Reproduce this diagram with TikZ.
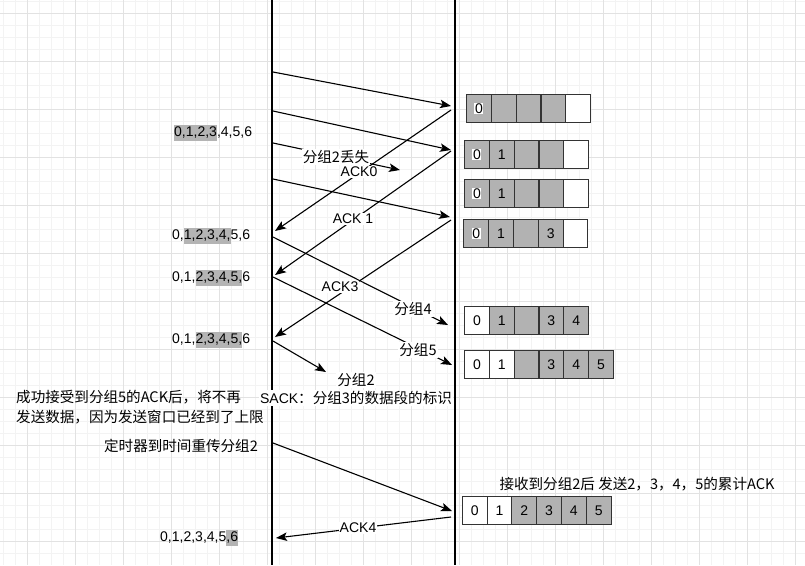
\documentclass[tikz,border=0pt]{standalone}
\usepackage{fontspec}
\setmainfont{Liberation Sans}
\newfontfamily\cjk[Scale=1.04]{Noto Sans CJK SC}
\usetikzlibrary{arrows.meta}
\definecolor{hlgray}{RGB}{180,180,180}
\definecolor{cellgray}{RGB}{178,178,178}
\definecolor{gridminor}{RGB}{243,243,243}
\definecolor{gridmajor}{RGB}{226,226,226}
\newcommand\hlt[1]{{\setlength{\fboxsep}{0pt}\colorbox{hlgray}{\rule[-5pt]{0pt}{16.5pt}#1}}}
\newcommand\zw{{\setlength{\fboxsep}{0.6pt}\colorbox{white}{0}}}
\newcommand\emp{}
\newcommand\cellrow[4]{%
  \foreach \f/\t [count=\i from 0] in {#4} {
    \node[cell, fill=\f] (#1c\i) at ({#2+\i*24.8},#3) {\t};
  }}
\begin{document}
\begin{tikzpicture}[x=1pt,y=-1pt,
  every node/.style={font=\fontsize{14}{17}\selectfont, text=black},
  lifeline/.style={line width=2.4pt, black},
  msg/.style={line width=1.1pt, black, -{Stealth[length=11pt,width=8.5pt,inset=2.5pt]}},
  elabel/.style={fill=white, inner sep=1pt},
  txt/.style={inner sep=0pt},
  cell/.style={draw=black!80, line width=1.1pt, minimum width=24.8pt, minimum height=27.5pt, inner sep=0pt, anchor=north west},
  gminor/.style={draw=gridminor, line width=0.8pt},
  gmajor/.style={draw=gridmajor, line width=0.8pt}]
\useasboundingbox (0,0) rectangle (805,565);
\fill[white] (0,0) rectangle (805,565);
% grid
\foreach \x in {3,15,...,801} \draw[gminor] (\x,0) -- (\x,565);
\foreach \y in {1.3,13.3,...,565} \draw[gminor] (0,\y) -- (805,\y);
\foreach \x in {27,75,...,795} \draw[gmajor] (\x,0) -- (\x,565);
\foreach \y in {13.3,61.3,...,565} \draw[gmajor] (0,\y) -- (805,\y);
% lifelines
\coordinate (LT) at (272,0); \coordinate (LB) at (272,565);
\coordinate (RT) at (455,0); \coordinate (RB) at (455,565);
\draw[lifeline] (LT) -- (LB);
\draw[lifeline] (RT) -- (RB);
% message end points
\coordinate (f1s) at (273,72);  \coordinate (f1e) at (451,106);
\coordinate (f2s) at (273,111); \coordinate (f2e) at (451,150);
\coordinate (f3s) at (273,143); \coordinate (f3e) at (400,170);
\coordinate (f4s) at (273,179); \coordinate (f4e) at (450,217);
\coordinate (f5s) at (273,237); \coordinate (f5e) at (448,325);
\coordinate (f6s) at (273,277); \coordinate (f6e) at (452,365);
\coordinate (f7s) at (273,341); \coordinate (f7e) at (326,372);
\coordinate (f8s) at (273,443); \coordinate (f8e) at (452,511);
\coordinate (a0s) at (451,110); \coordinate (a0e) at (275,231);
\coordinate (a1s) at (451,151); \coordinate (a1e) at (275,275);
\coordinate (a3s) at (451,220); \coordinate (a3e) at (275,337);
\coordinate (a4s) at (451,517); \coordinate (a4e) at (276,538);
\foreach \m in {f1,f2,f3,f4,f5,f6,f7,f8,a0,a1,a3,a4}
  \draw[msg] (\m s) -- (\m e);
% edge labels
\node[elabel] (l3) at (336,157) {\cjk{分组}2\cjk{丢失}};
\node[elabel] (la0) at (359,172) {ACK0};
\node[elabel] (la1) at (353,219) {ACK 1};
\node[elabel] (la3) at (340,287) {ACK3};
\node[elabel] (l5) at (413,309) {\cjk{分组}4};
\node[elabel] (l6) at (418,350) {\cjk{分组}5};
\node[elabel] (l7) at (356,380) {\cjk{分组}2};
\node[elabel] (l7b) at (356,398) {SACK\cjk{：分组}3\cjk{的数据段的标识}};
\node[elabel] (la4) at (358,528) {ACK4};
% sender window texts
\node[txt, anchor=base west] (s1) at (174,136) {\hlt{0,1,2,3},4,5,6};
\node[txt, anchor=base west] (s2) at (172,239) {0,\hlt{1,2,3,4,}5,6};
\node[txt, anchor=base west] (s3) at (172,281) {0,1,\hlt{2,3,4,5,}6};
\node[txt, anchor=base west] (s4) at (172,343) {0,1,\hlt{2,3,4,5,}6};
\node[txt, anchor=base west] (s5) at (160,541) {0,1,2,3,4,5\hlt{,6}};
\node[txt, anchor=west, align=left, font=\fontsize{14}{20}\selectfont] (note1) at (16,407)
  {\cjk{成功接受到分组}5\cjk{的}ACK\cjk{后，将不再}\\\cjk{发送数据，因为发送窗口已经到了上限}};
\node[txt] (note2) at (181,446) {\cjk{定时器到时间重传分组}2};
\node[txt] (note3) at (637,484) {\cjk{接收到分组}2\cjk{后} \cjk{发送}2\cjk{，}3\cjk{，}4\cjk{，}5\cjk{的累计}ACK};
% receiver windows
\cellrow{r1}{466}{94}{cellgray/\zw, cellgray/\emp, cellgray/\emp, cellgray/\emp, white/\emp}
\cellrow{r2}{464}{140}{cellgray/\zw, cellgray/1, cellgray/\emp, cellgray/\emp, white/\emp}
\cellrow{r3}{464}{179}{cellgray/\zw, cellgray/1, cellgray/\emp, cellgray/\emp, white/\emp}
\cellrow{r4}{463.3}{219}{cellgray/\zw, cellgray/1, cellgray/\emp, cellgray/3, white/\emp}
\cellrow{r5}{464}{306}{white/0, cellgray/1, cellgray/\emp, cellgray/3, cellgray/4}
\cellrow{r6}{464}{350}{white/0, white/1, cellgray/\emp, cellgray/3, cellgray/4, cellgray/5}
\cellrow{r7}{461.7}{496}{white/0, white/1, cellgray/2, cellgray/3, cellgray/4, cellgray/5}
\end{tikzpicture}
\end{document}
